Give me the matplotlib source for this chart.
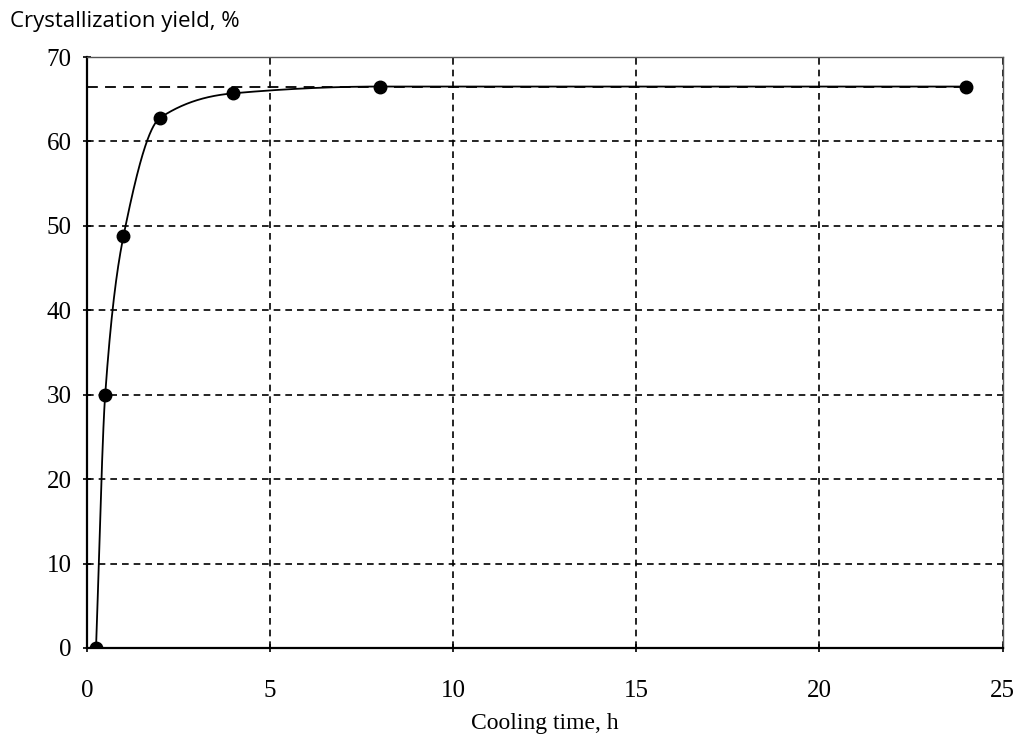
import numpy as np
import matplotlib.pyplot as plt

# cooling time (h) and crystallization yield (%)
time_h = [0.25, 0.5, 1, 2, 4, 8, 24]
yield_pct = [0, 30, 48.8, 62.8, 65.7, 66.5, 66.5]
plateau = 66.5

xticks = [0, 5, 10, 15, 20, 25]
yticks = [0, 10, 20, 30, 40, 50, 60, 70]


def pchip(x, y, xs):
    # monotone cubic interpolation for the smoothed line
    x = np.asarray(x, float)
    y = np.asarray(y, float)
    h = np.diff(x)
    d = np.diff(y) / h
    n = len(x)
    m = np.zeros(n)
    for k in range(1, n - 1):
        if d[k - 1] * d[k] > 0:
            w1 = 2 * h[k] + h[k - 1]
            w2 = h[k] + 2 * h[k - 1]
            m[k] = (w1 + w2) / (w1 / d[k - 1] + w2 / d[k])
    m[0] = d[0]
    m[-1] = 0
    out = np.empty_like(xs)
    for i, t in enumerate(xs):
        k = min(np.searchsorted(x, t, side='right') - 1, n - 2)
        s = (t - x[k]) / h[k]
        h00 = 2 * s**3 - 3 * s**2 + 1
        h10 = s**3 - 2 * s**2 + s
        h01 = -2 * s**3 + 3 * s**2
        h11 = s**3 - s**2
        out[i] = h00 * y[k] + h10 * h[k] * m[k] + h01 * y[k + 1] + h11 * h[k] * m[k + 1]
    return out


fig = plt.figure(figsize=(10.22, 7.5), dpi=100)
ax = fig.add_axes([0.085, 0.136, 0.896, 0.788])

xs = np.linspace(time_h[0], time_h[-1], 2000)
ax.plot(xs, pchip(time_h, yield_pct, xs), color='black', lw=1.3, zorder=3)
ax.plot(time_h, yield_pct, 'o', color='black', markersize=9, zorder=4)
ax.plot([0, time_h[-1]], [plateau, plateau], color='black', lw=1.3,
        linestyle=(0, (6, 4)), zorder=2)

ax.set_xlim(0, 25)
ax.set_ylim(0, 70)
ax.set_xticks(xticks)
ax.set_yticks(yticks)
ax.grid(True, color='black', linestyle=(0, (4, 3)), lw=1.2)

for s in ['top', 'right']:
    ax.spines[s].set_color('#555555')
    ax.spines[s].set_linewidth(1.0)
for s in ['left', 'bottom']:
    ax.spines[s].set_linewidth(1.6)

ax.tick_params(axis='both', labelsize=18, length=6, width=1.2, direction='inout')
for lab in ax.get_xticklabels() + ax.get_yticklabels():
    lab.set_fontfamily('Liberation Serif')
ax.tick_params(axis='x', pad=20)
ax.tick_params(axis='y', pad=8)

fig.text(0.01, 0.985, 'Crystallization yield, %', fontsize=16,
         family='Open Sans', ha='left', va='top')
ax.set_xlabel('Cooling time, h', fontsize=17, family='Liberation Serif', labelpad=8)

fig.savefig('out.png', dpi=100)
